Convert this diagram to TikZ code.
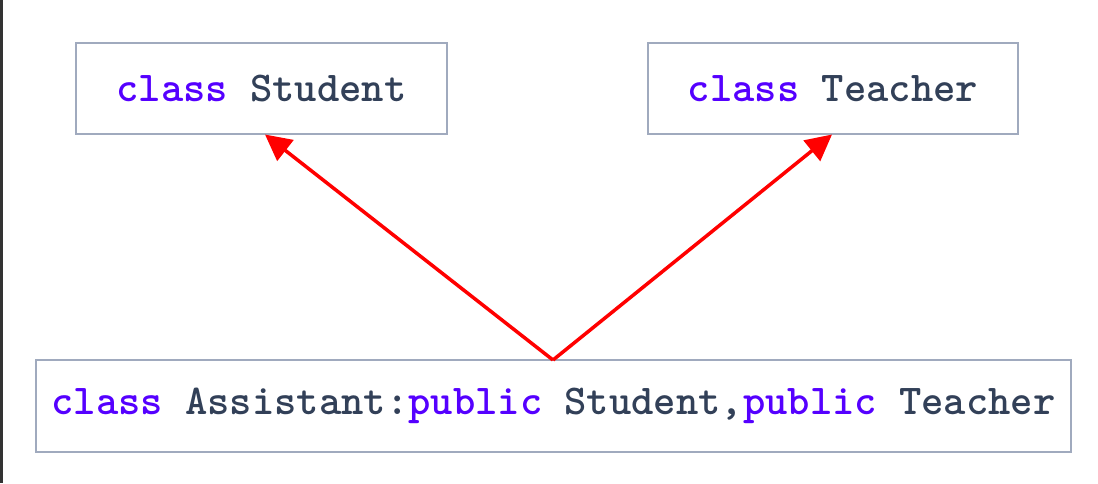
\documentclass[tikz,border=0pt]{standalone}
\usepackage{fontspec}
\usetikzlibrary{arrows.meta}
\definecolor{kw}{RGB}{85,0,255}
\definecolor{tx}{RGB}{50,64,88}
\definecolor{bd}{RGB}{160,170,190}
\tikzset{
  classbox/.style={draw=bd, line width=1.5pt, inner sep=0pt, font=\ttfamily\bfseries\fontsize{42.5}{46}\selectfont, text=tx},
  inherit/.style={draw=red, line width=3.5pt, -{Triangle[length=26pt,width=26pt]}}
}
\newcommand{\kwd}[1]{\textcolor{kw}{#1}}
\newcommand{\lowered}[1]{\raisebox{-2pt}{#1}}
\begin{document}
\begin{tikzpicture}[x=1pt,y=-1pt]
\useasboundingbox (0,0) rectangle (1098,483);
\fill[black!80] (0,0) rectangle (2.5,483);
\node[classbox, minimum width=371pt, minimum height=91pt] (student) at (261.5,88.5) {\lowered{\kwd{class} Student}};
\node[classbox, minimum width=370pt, minimum height=91pt] (teacher) at (833,88.5) {\lowered{\kwd{class} Teacher}};
\node[classbox, minimum width=1035pt, minimum height=92pt] (assistant) at (553.5,406) {\lowered{\kwd{class} Assistant:\kwd{public} Student,\kwd{public} Teacher}};
\coordinate (apex) at (553,360);
\draw[inherit] (apex) -- (265,134.5);
\draw[inherit] (apex) -- (832,134.5);
\end{tikzpicture}
\end{document}
